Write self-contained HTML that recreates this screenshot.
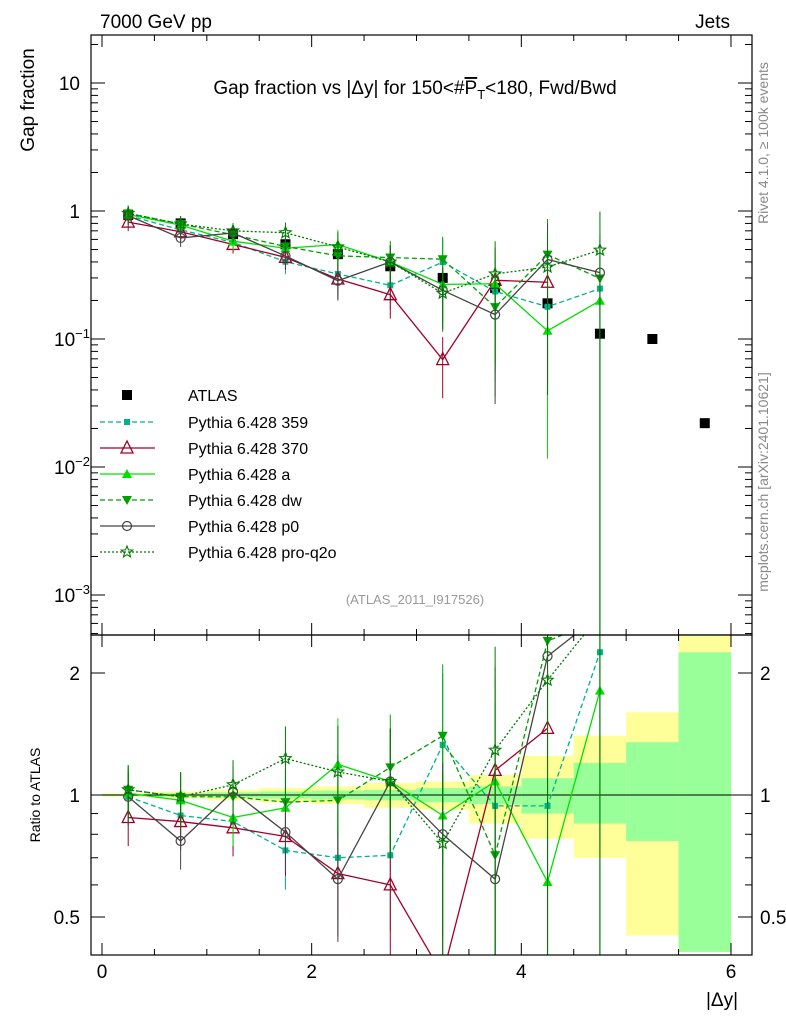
<!DOCTYPE html>
<html><head><meta charset="utf-8"><style>
html,body{margin:0;padding:0;background:#fff;overflow:hidden;width:786px;height:1024px}
svg{display:block}
svg text{font-family:"Liberation Sans",sans-serif}
</style></head><body>
<svg id="c" width="786" height="1024" xmlns="http://www.w3.org/2000/svg">
<text x="100" y="28" font-size="19">7000 GeV pp</text>
<text x="730" y="28" font-size="19" text-anchor="end">Jets</text>
<text x="415" y="94" font-size="19" text-anchor="middle">Gap fraction vs |Δy| for 150&lt;#<tspan text-decoration="overline">P</tspan><tspan font-size="13" dy="5">T</tspan><tspan dy="-5">&lt;180, Fwd/Bwd</tspan></text>
<text transform="translate(34,100) rotate(-90)" font-size="19" text-anchor="middle">Gap fraction</text>
<text transform="translate(40,795) rotate(-90)" font-size="14" text-anchor="middle">Ratio to ATLAS</text>
<text transform="translate(768,143) rotate(-90)" font-size="14" fill="#888" text-anchor="middle">Rivet 4.1.0, ≥ 100k events</text>
<text transform="translate(768,482) rotate(-90)" font-size="14" fill="#888" text-anchor="middle">mcplots.cern.ch [arXiv:2401.10621]</text>
<text x="415" y="604" font-size="13" fill="#999" text-anchor="middle">(ATLAS_2011_I917526)</text>
<text x="722" y="1006" font-size="19" text-anchor="middle">|Δy|</text>
<g id="g"></g>
</svg>
<script>
const xCenters=[0.25,0.75,1.25,1.75,2.25,2.75,3.25,3.75,4.25,4.75,5.25,5.75];
const atlas=[0.93,0.80,0.66,0.55,0.46,0.37,0.30,0.25,0.19,0.11,0.10,0.022];
const r359=[0.99,0.89,0.86,0.73,0.70,0.71,1.33,0.94,0.94,2.25];
const r370=[0.88,0.86,0.83,0.79,0.64,0.60,0.23,1.15,1.46];
const rA=[1.01,0.97,0.88,0.93,1.19,1.08,0.89,1.08,0.61,1.81];
const rDw=[1.03,0.99,0.99,0.96,0.97,1.17,1.40,0.71,2.4,2.7];
const rP0=[0.99,0.77,1.02,0.81,0.62,1.08,0.80,0.62,2.2,3.0];
const rQ2o=[1.03,0.99,1.06,1.23,1.14,1.08,0.76,1.29,1.92,4.5];
const mcRelErr=[0.15,0.15,0.15,0.2,0.3,0.35,0.5,0.8,0.9,1.0];
const bandEdges=[0,0.5,1,1.5,2,2.5,3,3.5,4,4.5,5,5.5,6];
const bandYellowLo=[0.99,0.98,0.97,0.96,0.95,0.93,0.92,0.85,0.78,0.70,0.45,0.41];
const bandYellowHi=[1.01,1.02,1.03,1.04,1.05,1.07,1.08,1.12,1.25,1.40,1.60,2.47];
const bandGreenLo=[0.995,0.99,0.985,0.98,0.975,0.97,0.96,0.95,0.90,0.85,0.77,0.41];
const bandGreenHi=[1.005,1.01,1.015,1.02,1.025,1.03,1.04,1.05,1.10,1.20,1.35,2.25];

const NS="http://www.w3.org/2000/svg";
const g=document.getElementById('g');
const L=91,R=752,T=35,M=635,B=955;
const X=v=>102+v*104.83;
const cl=(y,a,b)=>Math.max(a,Math.min(b,y));
const Y=v=>211-Math.log10(v)*128;
const YR=v=>795-Math.log2(v)*122;
function el(t,a,p){const e=document.createElementNS(NS,t);for(const k in a)e.setAttribute(k,a[k]);(p||g).appendChild(e);return e;}
const clipM=el('clipPath',{id:'cm'});el('rect',{x:L,y:T,width:R-L,height:M-T},clipM);
const clipR=el('clipPath',{id:'cr'});el('rect',{x:L,y:M,width:R-L,height:B-M},clipR);
const gm=el('g',{'clip-path':'url(#cm)'});


const gr=el('g',{'clip-path':'url(#cr)'});



for(let i=0;i<bandYellowLo.length;i++){
 const x0=X(bandEdges[i]),x1=X(bandEdges[i+1]);
 const y=el('rect',{x:x0,y:YR(bandYellowHi[i]),width:x1-x0,height:YR(bandYellowLo[i])-YR(bandYellowHi[i]),fill:'#ffff99'},gr);
 
 
 const gg=el('rect',{x:x0,y:YR(bandGreenHi[i]),width:x1-x0,height:YR(bandGreenLo[i])-YR(bandGreenHi[i]),fill:'#99ff99'},gr);
 
 
}
el('line',{x1:L,x2:R,y1:YR(1),y2:YR(1),stroke:'#000','stroke-width':1},gr);

atlas.forEach((v,i)=>{
 const cx=X(xCenters[i]);
 const s=el('rect',{x:cx-5,y:Y(v)-5,width:10,height:10,fill:'#000'},gm);
 
 
});

function marker(type,cx,cy,col,p){
 let e;
 if(type==='sq')e=el('rect',{x:cx-3,y:cy-3,width:6,height:6,fill:col},p);
 else if(type==='otri')e=el('polygon',{points:`${cx},${cy-7} ${cx-6},${cy+5} ${cx+6},${cy+5}`,fill:'none',stroke:col,'stroke-width':1.3},p);
 else if(type==='tri')e=el('polygon',{points:`${cx},${cy-5} ${cx-5},${cy+4} ${cx+5},${cy+4}`,fill:col},p);
 else if(type==='dtri')e=el('polygon',{points:`${cx},${cy+5} ${cx-5},${cy-4} ${cx+5},${cy-4}`,fill:col},p);
 else if(type==='circ')e=el('circle',{cx,cy,r:4.5,fill:'none',stroke:col,'stroke-width':1.2},p);
 else {let pts=[];for(let k=0;k<10;k++){const a=-Math.PI/2+k*Math.PI/5,r=k%2?2.6:6;pts.push((cx+r*Math.cos(a)).toFixed(1)+','+(cy+r*Math.sin(a)).toFixed(1));}
  e=el('polygon',{points:pts.join(' '),fill:'none',stroke:col,'stroke-width':1.1},p);}
 return e;
}
const series=[
 {name:'Pythia 6.428 359',r:r359,col:'#00b38a',dash:'5,3',m:'sq'},
 {name:'Pythia 6.428 370',r:r370,col:'#a0002a',dash:'',m:'otri'},
 {name:'Pythia 6.428 a',r:rA,col:'#00e000',dash:'',m:'tri'},
 {name:'Pythia 6.428 dw',r:rDw,col:'#00a000',dash:'5,3',m:'dtri'},
 {name:'Pythia 6.428 p0',r:rP0,col:'#444',dash:'',m:'circ'},
 {name:'Pythia 6.428 pro-q2o',r:rQ2o,col:'#007a00',dash:'2,2',m:'star'}
];
const cm=y=>cl(y,T-20,M+20), cr=y=>cl(y,M-20,B+20);
series.forEach((s,si)=>{
 const vals=s.r.map((r,i)=>r*atlas[i]);
 const mp=vals.map((v,i)=>X(xCenters[i])+','+cm(Y(v))).join(' ');
 const rp=s.r.map((r,i)=>X(xCenters[i])+','+cr(YR(r))).join(' ');
 const l1=el('polyline',{points:mp,fill:'none',stroke:s.col,'stroke-width':1.3,'stroke-dasharray':s.dash},gm);
 
 
 const l2=el('polyline',{points:rp,fill:'none',stroke:s.col,'stroke-width':1.3,'stroke-dasharray':s.dash},gr);
 
 
 vals.forEach((v,i)=>{
  const cx=X(xCenters[i]),e=mcRelErr[i];
  const lo=Math.max(v*(1-e),1e-5),hi=v*(1+e);
  el('line',{x1:cx,x2:cx,y1:cm(Y(lo)),y2:cm(Y(hi)),stroke:s.col,'stroke-width':1},gm);
  el('line',{x1:cx,x2:cx,y1:cr(YR(Math.max(s.r[i]*(1-e),0.01))),y2:cr(YR(s.r[i]*(1+e))),stroke:s.col,'stroke-width':1},gr);
  if(Y(v)<M){const a=marker(s.m,cx,Y(v),s.col,gm);
  
  }
  const ry=YR(s.r[i]);
  if(ry>M-10&&ry<B+10){const b=marker(s.m,cx,ry,s.col,gr);
  
  }
 });
 const ly=422+si*26;
 el('line',{x1:100,x2:155,y1:ly,y2:ly,stroke:s.col,'stroke-width':1.3,'stroke-dasharray':s.dash});
 const lm=marker(s.m,127,ly,s.col,g);
 
 
 const t=el('text',{x:188,y:ly+6,'font-size':16});t.textContent=s.name;
 
 
});
el('rect',{x:122,y:390,width:10,height:10,fill:'#000'});
const lt=el('text',{x:188,y:401,'font-size':16});lt.textContent='ATLAS';



el('rect',{x:L,y:T,width:R-L,height:M-T,fill:'none',stroke:'#000','stroke-width':1.2});
el('rect',{x:L,y:M,width:R-L,height:B-M,fill:'none',stroke:'#000','stroke-width':1.2});
for(let v=0;v<=6.01;v+=0.5){
 const x=X(v),maj=Math.abs(v%2)<1e-6,len=maj?12:6;
 [[T,1],[M,-1],[M,1],[B,-1]].forEach(([y,d])=>el('line',{x1:x,x2:x,y1:y,y2:y+d*len,stroke:'#000'}));
}
for(let v=0;v<=6;v+=2){const t=el('text',{x:X(v),y:978,'font-size':19,'text-anchor':'middle'});t.textContent=v;
 }
for(let d=-4;d<=1;d++){for(let k=1;k<10;k++){const v=k*Math.pow(10,d),y=Y(v);if(y<T||y>M)continue;
 const len=k===1?14:7;el('line',{x1:L,x2:L+len,y1:y,y2:y,stroke:'#000'});el('line',{x1:R,x2:R-len,y1:y,y2:y,stroke:'#000'});}}
const yl=[[10,'10'],[1,'1'],[0.1,'10<tspan dy="-8" font-size="13">−1</tspan>'],[0.01,'10<tspan dy="-8" font-size="13">−2</tspan>'],[0.001,'10<tspan dy="-8" font-size="13">−3</tspan>']];
yl.forEach(([v,s])=>{const t=el('text',{x:v>=1?80:54,y:Y(v)+7,'font-size':19,'text-anchor':v>=1?'end':'start'});t.innerHTML=s;
 });
[0.5,0.6,0.7,0.8,0.9,1,2].forEach(v=>{const y=YR(v),len=(v===0.5||v===1||v===2)?14:7;
 el('line',{x1:L,x2:L+len,y1:y,y2:y,stroke:'#000'});el('line',{x1:R,x2:R-len,y1:y,y2:y,stroke:'#000'});});
[[2,'2'],[1,'1'],[0.5,'0.5']].forEach(([v,s])=>{
 const a=el('text',{x:80,y:YR(v)+7,'font-size':19,'text-anchor':'end'});a.textContent=s;
 
 const b=el('text',{x:760,y:YR(v)+7,'font-size':19});b.textContent=s;
 });
</script>
</body></html>
